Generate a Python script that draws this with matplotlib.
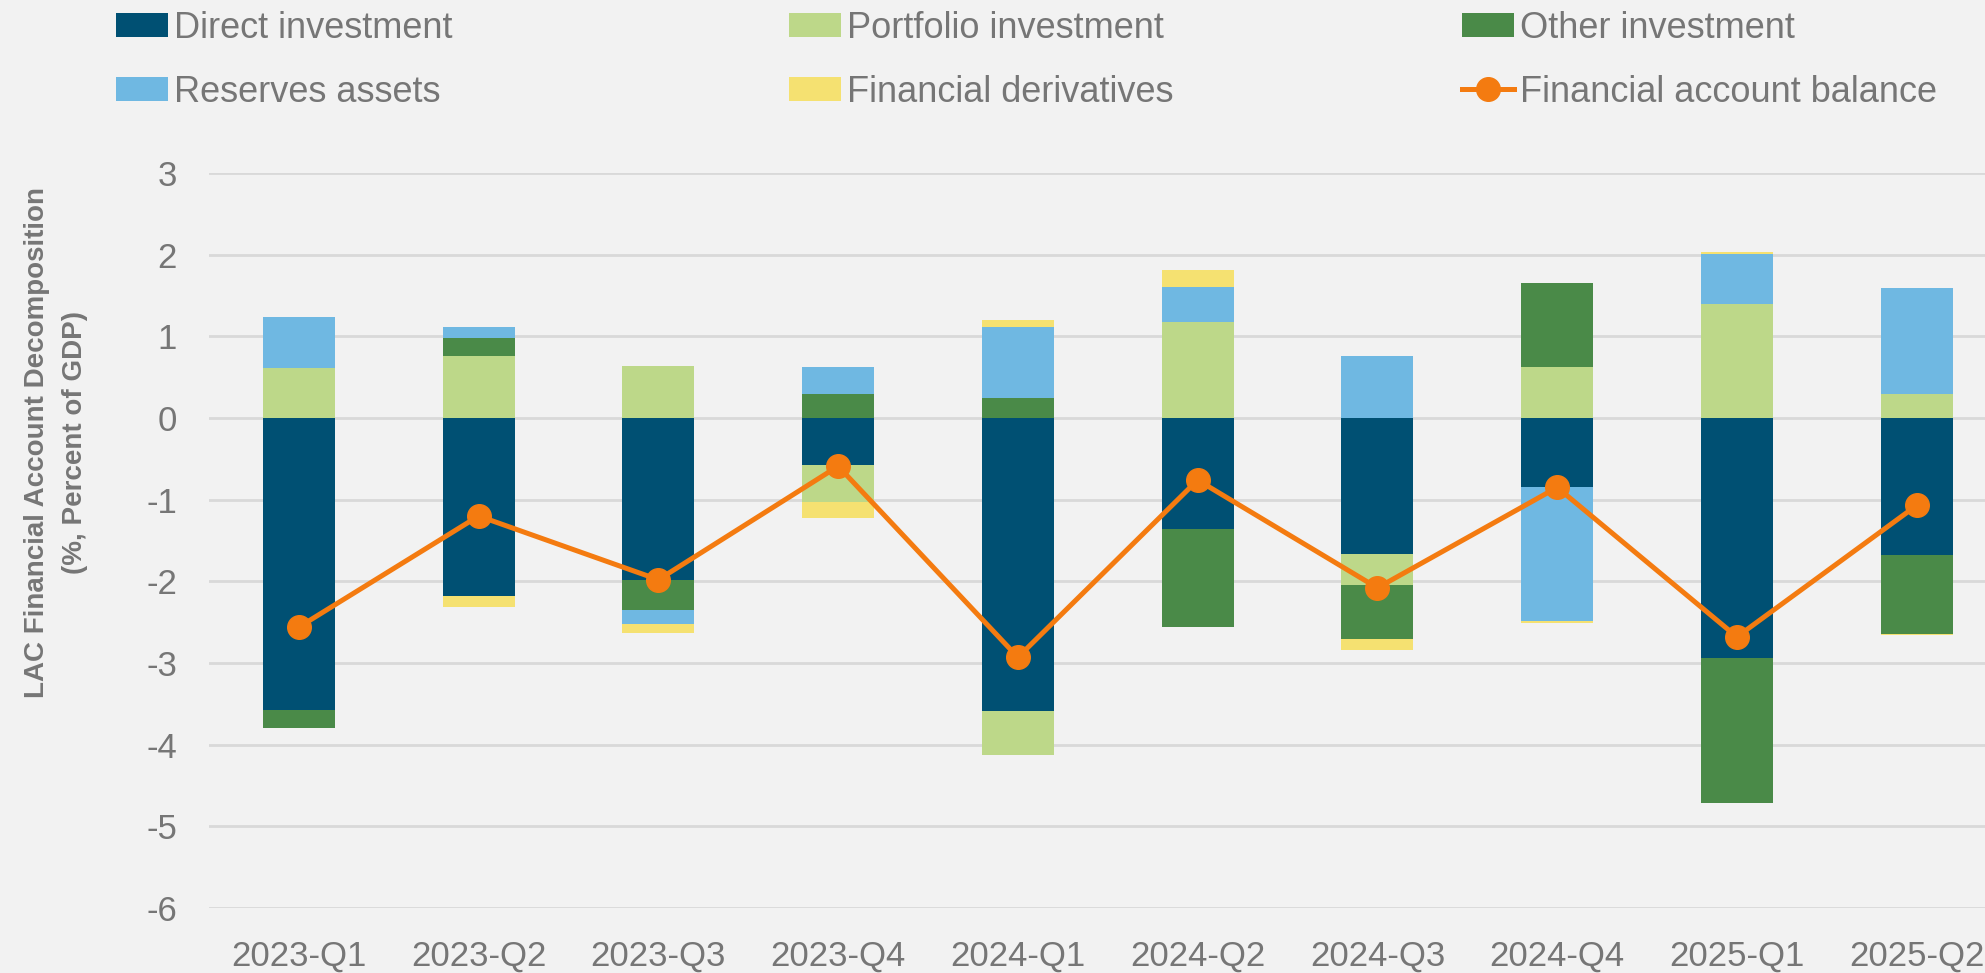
import matplotlib
matplotlib.use("Agg")
import matplotlib.pyplot as plt
from matplotlib.patches import Patch
from matplotlib.lines import Line2D
import numpy as np


# ======================================================
# DATA (percent of GDP)
# ======================================================
quarters = ["2023-Q1", "2023-Q2", "2023-Q3", "2023-Q4", "2024-Q1",
            "2024-Q2", "2024-Q3", "2024-Q4", "2025-Q1", "2025-Q2"]

direct = [-3.58, -2.18, -1.98, -0.58, -3.59, -1.36, -1.67, -0.84, -2.94, -1.68]
portfolio = [0.61, 0.76, 0.64, -0.45, -0.54, 1.18, -0.37, 0.62, 1.40, 0.30]
other = [-0.22, 0.22, -0.37, 0.29, 0.25, -1.20, -0.66, 1.03, -1.77, -0.96]
reserves = [0.63, 0.14, -0.17, 0.34, 0.87, 0.43, 0.76, -1.64, 0.61, 1.29]
derivatives = [0.00, -0.14, -0.11, -0.19, 0.08, 0.20, -0.14, -0.03, 0.02, -0.02]

balance = [-2.56, -1.20, -1.98, -0.59, -2.93, -0.76, -2.08, -0.85, -2.68, -1.07]

series_names = ["Direct investment", "Portfolio investment", "Other investment",
                "Reserves assets", "Financial derivatives"]
series_values = [direct, portfolio, other, reserves, derivatives]
series_colors = ["#005073", "#BDD889", "#4A8A48", "#6FB8E2", "#F5E171"]

line_name = "Financial account balance"
line_color = "#F47B10"
text_gray = "#767676"
bg = "#F2F2F2"

plt.rcParams["axes.unicode_minus"] = False


# ======================================================
# FIGURE
# ======================================================
fig = plt.figure(figsize=(19.85, 9.73), dpi=100, facecolor=bg)
ax = fig.add_axes([209 / 1985, 1 - 908 / 973, 1 - 209 / 1985, (908 - 173) / 973])
ax.set_facecolor(bg)

x = np.arange(len(quarters))
pos_bottom = np.zeros(len(quarters))
neg_bottom = np.zeros(len(quarters))

# Stacked bars, positives stacked up and negatives stacked down
for name, vals, color in zip(series_names, series_values, series_colors):
    vals = np.array(vals)
    bottoms = np.where(vals >= 0, pos_bottom, neg_bottom)
    ax.bar(x, vals, width=0.4, bottom=bottoms, color=color,
           edgecolor="none", zorder=2)
    pos_bottom += np.where(vals >= 0, vals, 0)
    neg_bottom += np.where(vals < 0, vals, 0)

# Balance line
ax.plot(x, balance, color=line_color, linewidth=3.6, marker="o",
        markersize=17, zorder=3)

# Axes styling
ax.set_xlim(-0.5, 9.38)
ax.set_ylim(-6, 3)
ax.set_yticks(range(-6, 4))
ax.set_xticks(x)
ax.set_xticklabels(quarters)
ax.grid(axis="y", color="#D9D9D9", linewidth=2, zorder=0)
ax.set_axisbelow(True)
for spine in ax.spines.values():
    spine.set_visible(False)
ax.tick_params(axis="both", length=0, labelsize=25, labelcolor=text_gray,
               labelfontfamily="Liberation Sans")
ax.tick_params(axis="y", pad=23)
ax.tick_params(axis="x", pad=23)

# Y axis title
fig.text(56 / 1985, 1 - 443 / 973,
         "LAC Financial Account Decomposition\n(%, Percent of GDP)",
         rotation=90, ha="center", va="center", multialignment="center",
         fontsize=20, fontweight="bold", color=text_gray,
         family="Liberation Sans", linespacing=1.55)

# ======================================================
# LEGEND (three columns, two rows)
# ======================================================
handles = [Patch(facecolor=c, edgecolor="none") for c in series_colors]
handles.append(Line2D([], [], color=line_color, linewidth=3.6, marker="o",
                      markersize=17))
labels = series_names + [line_name]

columns = [[0, 3], [1, 4], [2, 5]]
col_x = [116 / 1985, 789 / 1985, 1462 / 1985]
for idx, cx in zip(columns, col_x):
    leg = fig.legend([handles[i] for i in idx], [labels[i] for i in idx],
                     loc="upper left", bbox_to_anchor=(cx, 0.989),
                     frameon=False, borderpad=0, borderaxespad=0,
                     handlelength=1.45, handleheight=0.62, handletextpad=0.15,
                     labelspacing=0.8,
                     prop={"family": "Liberation Sans", "size": 26})
    for t in leg.get_texts():
        t.set_color(text_gray)

fig.savefig("out.png", dpi=100, facecolor=bg)
